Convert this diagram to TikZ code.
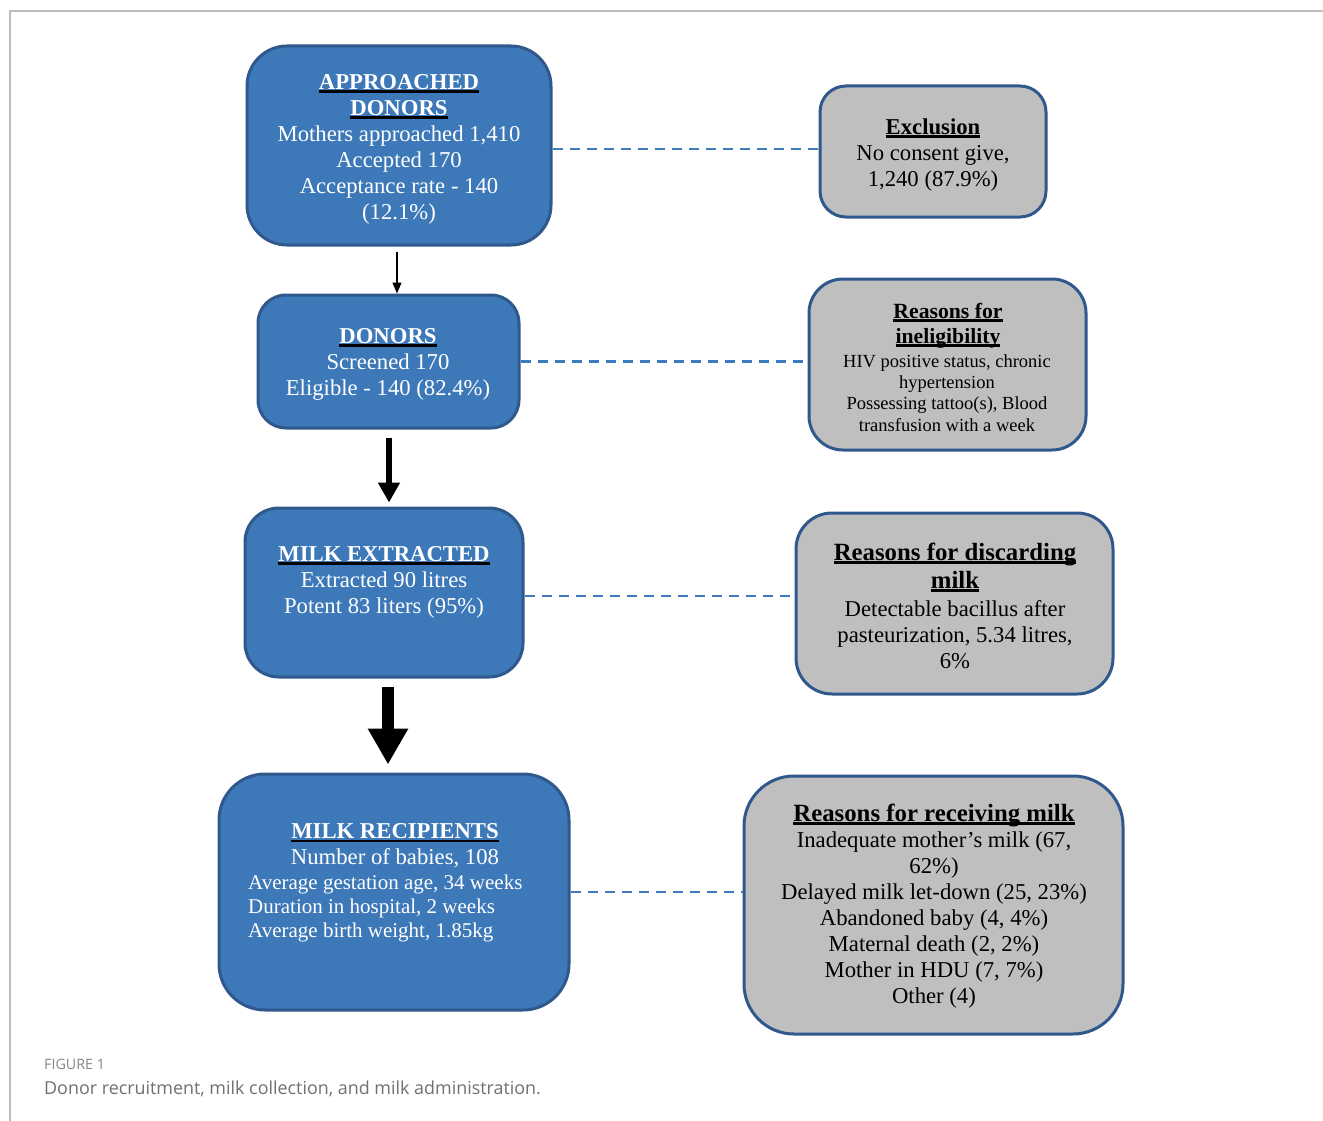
\documentclass[tikz,border=0pt]{standalone}
\usepackage{fontspec}
\setmainfont{Liberation Serif}
\newfontfamily\capfont{Open Sans}
\usetikzlibrary{arrows.meta}
\definecolor{boxblue}{RGB}{61,120,185}
\definecolor{boxedge}{RGB}{47,88,140}
\definecolor{boxgray}{RGB}{191,191,191}
\definecolor{dashblue}{RGB}{63,123,191}
\definecolor{framegray}{RGB}{190,190,190}
\definecolor{capgray}{RGB}{112,112,112}
\newcommand\hdr[1]{\setbox0\hbox{\bfseries #1}\rlap{\color{black}\rule[-3.5pt]{\wd0}{2.6pt}}\box0}
\newcommand\fs[2]{\fontsize{#1}{#2}\selectfont}
\tikzset{
  bluebox/.style={draw=boxedge, line width=3pt, fill=boxblue, rectangle, inner sep=0pt},
  graybox/.style={draw=boxedge, line width=3pt, fill=boxgray, rectangle, inner sep=0pt},
  txt/.style={inner sep=0pt, align=center},
  wtxt/.style={txt, text=white},
  dashlink/.style={draw=dashblue, line width=2.5pt, dash pattern=on 10pt off 7pt},
  thinarrow/.style={line width=1.2pt, -{Triangle[length=11pt,width=9pt]}},
  midarrow/.style={line width=6pt, -{Triangle[length=20pt,width=21pt]}},
  bigarrow/.style={line width=12pt, -{Triangle[length=36pt,width=38pt]}},
}
\begin{document}
\begin{tikzpicture}[x=1pt,y=-1pt]
\useasboundingbox (0,0) rectangle (1323,1121);
% frame
\draw[framegray, line width=1.2pt] (10,1121) -- (10,11) -- (1323,11);

% left boxes
\node[bluebox, rounded corners=40pt, minimum width=304pt, minimum height=199pt] (b1) at (399,145.5) {};
\node[bluebox, rounded corners=28pt, minimum width=261pt, minimum height=133pt] (b2) at (388.5,361.5) {};
\node[bluebox, rounded corners=34pt, minimum width=278pt, minimum height=169pt] (b3) at (384,592.5) {};
\node[bluebox, rounded corners=46pt, minimum width=350pt, minimum height=236pt] (b4) at (394,892) {};

% right boxes
\node[graybox, rounded corners=26pt, minimum width=226pt, minimum height=131pt] (r1) at (933,151.5) {};
\node[graybox, rounded corners=34pt, minimum width=277pt, minimum height=171pt] (r2) at (947.5,364.5) {};
\node[graybox, rounded corners=36pt, minimum width=317pt, minimum height=181pt] (r3) at (954.5,603.5) {};
\node[graybox, rounded corners=50pt, minimum width=379pt, minimum height=258pt] (r4) at (933.5,905) {};

% texts left
\node[wtxt, font=\fs{22.7}{26}] (t1) at (399,149) {\hdr{APPROACHED}\\\hdr{DONORS}\\Mothers approached 1,410\\Accepted 170\\Acceptance rate - 140\\(12.1\%)};
\node[wtxt, font=\fs{22.7}{26}] (t2) at (388,364.5) {\hdr{DONORS}\\Screened 170\\Eligible - 140 (82.4\%)};
\node[wtxt, font=\fs{22.7}{26}] (t3) at (384,582) {\hdr{MILK EXTRACTED}\\Extracted 90 litres\\Potent 83 liters (95\%)};
\node[wtxt, font=\fs{22.7}{26}] (t4a) at (395,846) {\hdr{MILK RECIPIENTS}\\Number of babies, 108};
\node[wtxt, align=left, anchor=west, font=\fs{21}{24}] (t4b) at (248,908.5) {Average gestation age, 34 weeks\\Duration in hospital, 2 weeks\\Average birth weight, 1.85kg};

% texts right
\node[txt, font=\fs{22.7}{26}] (u1) at (933,155) {\hdr{Exclusion}\\No consent give,\\1,240 (87.9\%)};
\node[txt, font=\fs{21.7}{25}] (u2a) at (948,325.5) {\hdr{Reasons for}\\\hdr{ineligibility}};
\node[txt, font=\fs{18.5}{21.3}] (u2b) at (947,393) {HIV positive status, chronic\\hypertension\\Possessing tattoo(s), Blood\\transfusion with a week};
\node[txt, font=\fs{24.8}{28}] (u3a) at (955,567.5) {\hdr{Reasons for discarding}\\\hdr{milk}};
\node[txt, font=\fs{22.7}{26}] (u3b) at (955,634.5) {Detectable bacillus after\\pasteurization, 5.34 litres,\\6\%};
\node[txt, font=\fs{24.8}{28}] (u4a) at (934,815) {\hdr{Reasons for receiving milk}};
\node[txt, font=\fs{22.7}{26}] (u4b) at (934,920) {Inadequate mother’s milk (67,\\62\%)\\Delayed milk let-down (25, 23\%)\\Abandoned baby (4, 4\%)\\Maternal death (2, 2\%)\\Mother in HDU (7, 7\%)\\Other (4)};

% arrows
\coordinate (a1s) at ([xshift=-2pt,yshift=-5pt]b1.south);
\coordinate (a1e) at (a1s |- b2.north);
\draw[thinarrow] (a1s) -- (a1e);
\coordinate (a2s) at ([xshift=0.5pt,yshift=-8pt]b2.south);
\coordinate (a2e) at ([yshift=4pt]a2s |- b3.north);
\draw[midarrow] (a2s) -- (a2e);
\coordinate (a3s) at ([xshift=4pt,yshift=-8pt]b3.south);
\coordinate (a3e) at ([yshift=8pt]a3s |- b4.north);
\draw[bigarrow] (a3s) -- (a3e);

% dashed links
\coordinate (d1s) at ([yshift=-3.5pt]b1.east);
\draw[dashlink] (d1s) -- (d1s -| r1.west);
\draw[dashlink] (b2.east) -- (b2.east -| r2.west);
\coordinate (d3s) at ([yshift=-3.5pt]b3.east);
\draw[dashlink] (d3s) -- (d3s -| r3.west);
\draw[dashlink] (b4.east) -- (b4.east -| r4.west);

% caption
\node[anchor=base west, inner sep=0pt, text=capgray!85!white, font=\capfont\fs{14.3}{16}] (cap1) at (44,1069) {FIGURE 1};
\node[anchor=base west, inner sep=0pt, text=capgray, font=\capfont\fs{17.9}{20}] (cap2) at (44,1094) {Donor recruitment, milk collection, and milk administration.};
\end{tikzpicture}
\end{document}
